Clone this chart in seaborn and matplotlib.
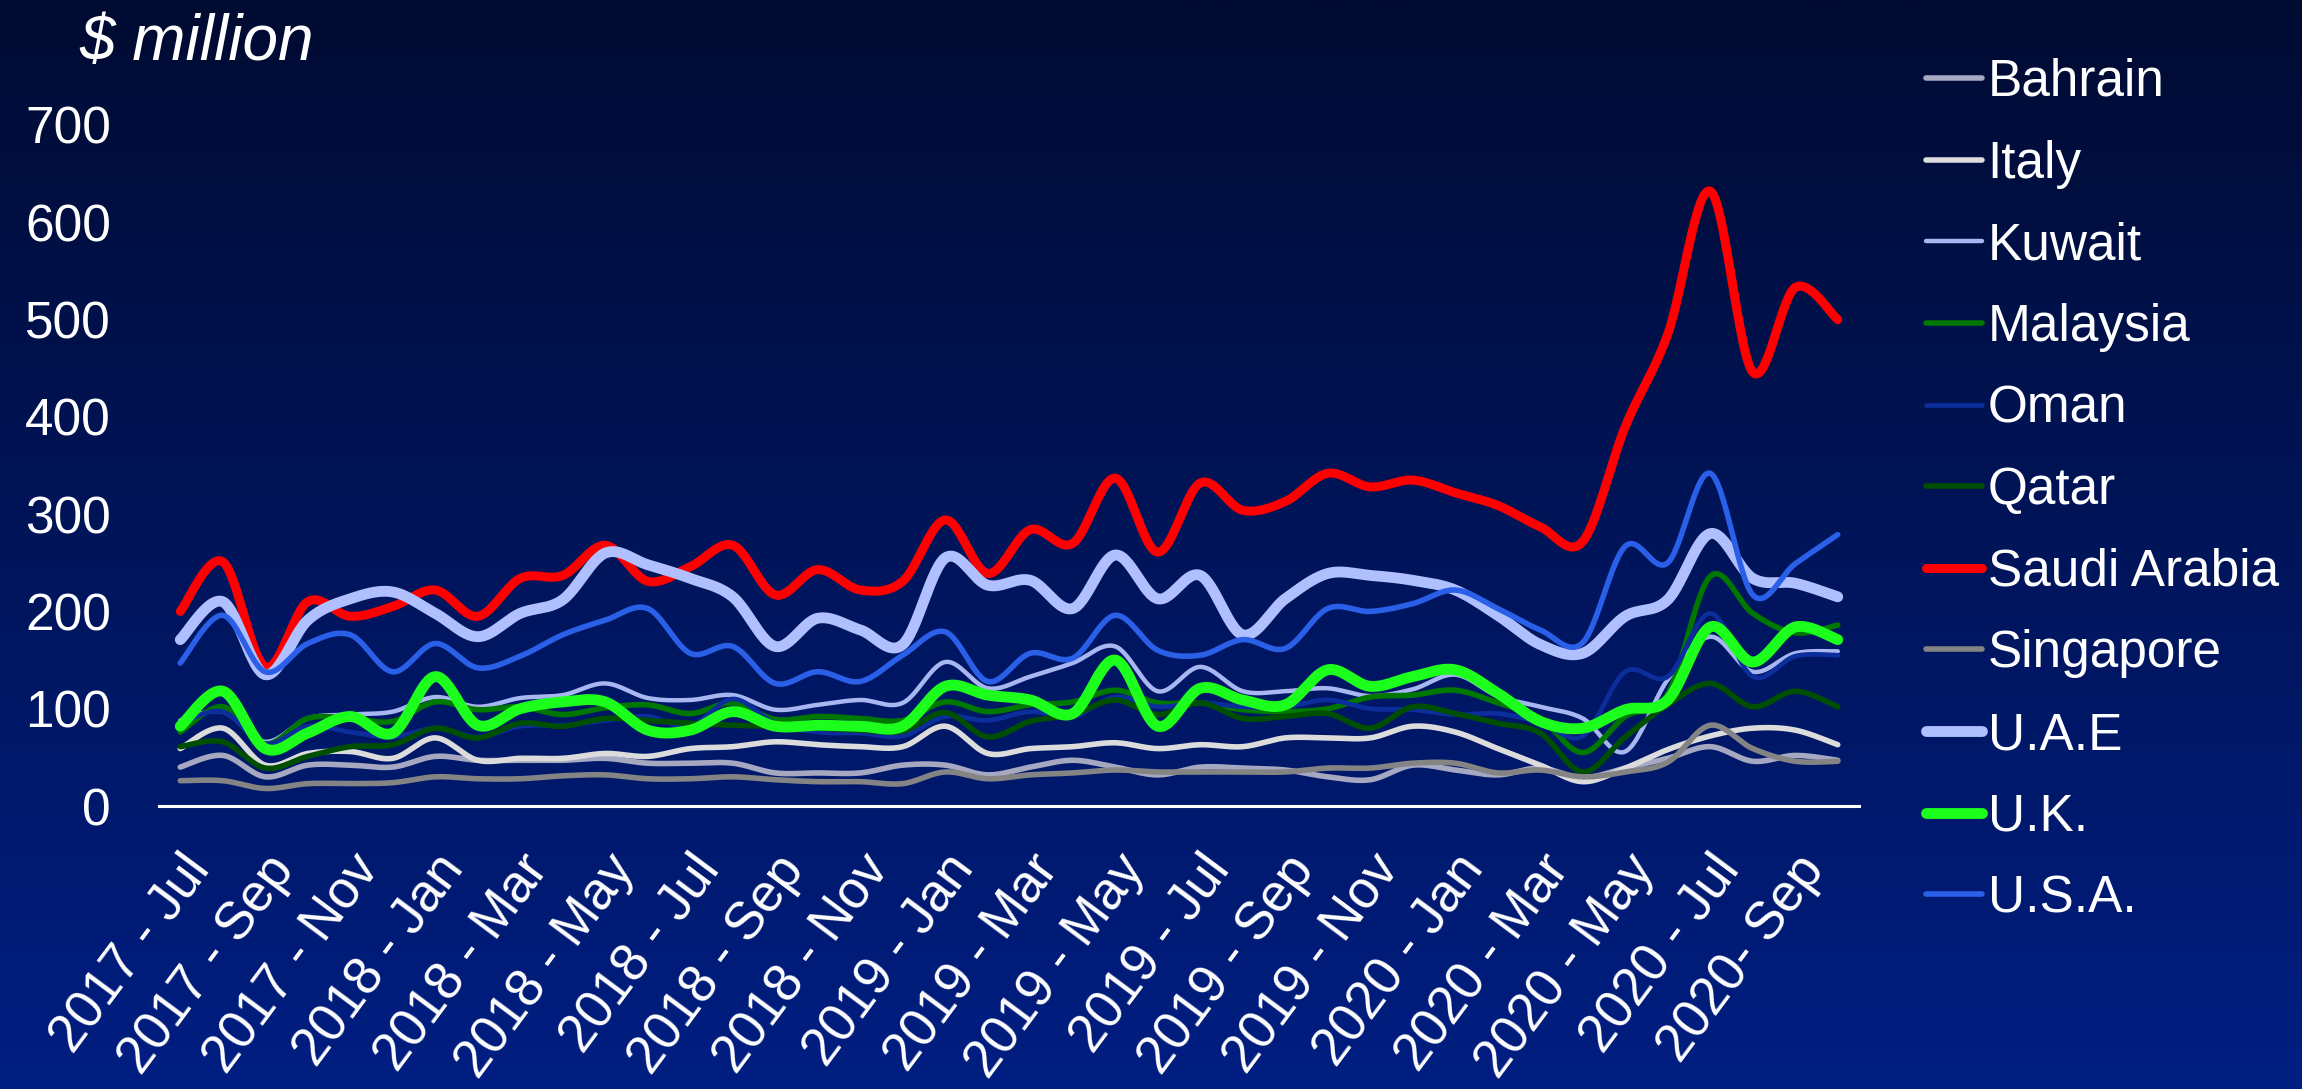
import numpy as np
import pandas as pd
import matplotlib
matplotlib.use("Agg")
import matplotlib.pyplot as plt
from matplotlib.lines import Line2D
from matplotlib.transforms import ScaledTranslation
import seaborn as sns

# ---- data: monthly values, $ million, Jul 2017 .. Oct 2020 ----
month_names = ["Jan", "Feb", "Mar", "Apr", "May", "Jun",
               "Jul", "Aug", "Sep", "Oct", "Nov", "Dec"]
months = [f"{2017 + (6 + k) // 12} - {month_names[(6 + k) % 12]}" for k in range(40)]

tick_labels = ["2017 - Jul", "2017 - Sep", "2017 - Nov", "2018 - Jan", "2018 - Mar",
               "2018 - May", "2018 - Jul", "2018 - Sep", "2018 - Nov", "2019 - Jan",
               "2019 - Mar", "2019 - May", "2019 - Jul", "2019 - Sep", "2019 - Nov",
               "2020 - Jan", "2020 - Mar", "2020 - May", "2020 - Jul", "2020- Sep"]

countries = ["Bahrain", "Italy", "Kuwait", "Malaysia", "Oman", "Qatar",
             "Saudi Arabia", "Singapore", "U.A.E", "U.K.", "U.S.A."]

bahrain = [40, 52, 30, 42, 42, 40, 51, 47, 47, 47, 49, 44, 44, 44, 34, 34, 34, 42, 42, 32,
           40, 47, 40, 32, 40, 39, 37, 30, 27, 42, 37, 32, 39, 29, 39, 49, 61, 46, 52, 47]
italy = [59, 80, 42, 54, 56, 49, 70, 47, 49, 49, 54, 51, 59, 61, 66, 63, 61, 61, 82, 54,
         59, 61, 65, 59, 63, 61, 70, 70, 70, 82, 76, 59, 42, 25, 39, 58, 72, 80, 78, 63]
kuwait = [88, 97, 66, 90, 94, 97, 112, 102, 111, 114, 126, 111, 109, 114, 99, 104, 109, 106, 148, 121,
          133, 147, 164, 118, 143, 118, 118, 121, 113, 120, 135, 113, 102, 90, 56, 130, 174, 138, 157, 159]
malaysia = [76, 102, 64, 90, 90, 87, 107, 99, 102, 94, 101, 104, 95, 106, 89, 92, 90, 88, 107, 97,
            104, 107, 119, 106, 106, 99, 97, 100, 112, 114, 119, 106, 90, 55, 92, 115, 236, 198, 178, 186]
oman = [85, 97, 64, 82, 76, 71, 80, 71, 82, 83, 88, 92, 82, 110, 85, 76, 75, 72, 92, 88,
        97, 92, 112, 102, 106, 102, 102, 109, 100, 99, 94, 95, 86, 72, 138, 133, 198, 133, 154, 155]
qatar = [61, 66, 39, 51, 61, 63, 80, 70, 85, 82, 90, 88, 85, 83, 82, 80, 78, 77, 96, 71,
         87, 94, 109, 94, 106, 90, 92, 95, 80, 102, 95, 85, 75, 35, 71, 104, 126, 102, 118, 102]
saudi_arabia = [200, 251, 143, 210, 195, 205, 222, 195, 234, 237, 268, 231, 246, 268, 217, 243, 222, 231, 294, 239,
                284, 270, 337, 261, 332, 304, 313, 342, 328, 335, 322, 309, 287, 272, 390, 485, 632, 446, 533, 500]
singapore = [26, 26, 18, 23, 23, 24, 30, 28, 28, 31, 32, 28, 28, 30, 27, 25, 25, 23, 35, 28,
             32, 34, 37, 35, 35, 35, 35, 39, 39, 44, 44, 34, 37, 30, 35, 45, 83, 59, 46, 46]
uae = [171, 210, 135, 191, 213, 220, 198, 174, 198, 212, 260, 248, 234, 215, 164, 193, 181, 166, 255, 227,
       232, 203, 258, 213, 237, 176, 213, 239, 237, 232, 222, 196, 166, 157, 195, 212, 280, 234, 229, 215]
uk = [82, 118, 59, 75, 92, 75, 133, 83, 100, 107, 107, 78, 78, 97, 82, 83, 82, 82, 123, 114,
      109, 95, 150, 82, 121, 109, 104, 140, 123, 133, 140, 116, 87, 80, 99, 109, 184, 148, 184, 171]
usa = [147, 196, 138, 167, 176, 138, 167, 142, 154, 176, 191, 203, 157, 164, 126, 138, 128, 155, 179, 128,
       157, 152, 196, 160, 155, 171, 162, 203, 200, 208, 222, 203, 181, 168, 267, 250, 342, 217, 249, 279]

values = [bahrain, italy, kuwait, malaysia, oman, qatar,
          saudi_arabia, singapore, uae, uk, usa]

colors = ["#A6A8C2", "#DCDCDC", "#A8B6F2", "#007800", "#0C2E9C", "#004E00",
          "#FF0000", "#848484", "#B0C0FF", "#1CFF1C", "#2A5FE8"]
widths = [4.0, 4.0, 3.2, 4.0, 3.4, 4.0, 6.5, 4.0, 7.8, 7.8, 4.0]


def smooth_curve(y, n=30):
    """Bezier-smoothed path through monthly points (spreadsheet-style smoothing)."""
    pts = np.column_stack([np.arange(len(y), dtype=float), np.asarray(y, float)])
    out = []
    last = len(pts) - 2
    for k in range(len(pts) - 1):
        p0 = pts[k - 1] if k > 0 else pts[k]
        p1, p2 = pts[k], pts[k + 1]
        p3 = pts[k + 2] if k + 2 < len(pts) else pts[k + 1]
        c1 = p1 + (p2 - p0) / 6.0
        c2 = p2 - (p3 - p1) / 6.0
        t = np.linspace(0, 1, n, endpoint=(k == last))[:, None]
        seg = ((1 - t) ** 3) * p1 + 3 * ((1 - t) ** 2) * t * c1 + 3 * (1 - t) * (t ** 2) * c2 + (t ** 3) * p2
        out.append(seg)
    return np.vstack(out)


frames = []
for name, vals in zip(countries, values):
    path = smooth_curve(vals)
    frames.append(pd.DataFrame({"x": path[:, 0], "value": path[:, 1], "country": name}))
df = pd.concat(frames, ignore_index=True)

# ---- styling ----
sns.set_style("white")
plt.rcParams["font.family"] = ["Liberation Sans", "DejaVu Sans"]

W, H = 2302, 1089
fig = plt.figure(figsize=(W / 100, H / 100), dpi=100)

# vertical navy gradient behind everything
bg = fig.add_axes([0, 0, 1, 1], zorder=0)
top = np.array([0, 11, 50]) / 255.0
bottom = np.array([0, 30, 130]) / 255.0
tt = np.linspace(0, 1, 512)[:, None, None]
grad = top * (1 - tt) + bottom * tt
bg.imshow(grad, aspect="auto", extent=[0, 1, 0, 1], origin="upper")
bg.axis("off")

ax = fig.add_axes([159 / W, 1 - 806 / H, 1700 / W, 681 / H], zorder=1)
ax.patch.set_alpha(0)

sns.lineplot(data=df, x="x", y="value", hue="country", size="country",
             hue_order=countries, size_order=countries,
             palette=dict(zip(countries, colors)),
             sizes=dict(zip(countries, widths)),
             sort=False, estimator=None, legend=False, ax=ax,
             solid_capstyle="round", solid_joinstyle="round")

ax.set_xlim(-0.5, 39.5)
ax.set_ylim(0, 700)
ax.set_xlabel("")
ax.set_ylabel("")
ax.set_yticks(np.arange(0, 701, 100))
ax.set_xticks(np.arange(40))
ax.set_xticks([39.5], minor=True)
ax.set_xticklabels([tick_labels[i // 2] if i % 2 == 0 else "" for i in range(40)])

for side in ("top", "right", "left"):
    ax.spines[side].set_visible(False)
ax.spines["bottom"].set_color("white")
ax.spines["bottom"].set_linewidth(2.2)

ax.tick_params(axis="x", which="both", direction="out", length=7.5, width=1.5,
               color="white", labelcolor="white", labelsize=38, pad=32)
ax.tick_params(axis="y", length=0, labelcolor="white", labelsize=37, pad=34.5)

shift = ScaledTranslation(0.19, 0, fig.dpi_scale_trans)
for lab in ax.get_xticklabels():
    lab.set_rotation(53.3)
    lab.set_ha("right")
    lab.set_va("center")
    lab.set_rotation_mode("anchor")
    lab.set_transform(lab.get_transform() + shift)

fig.text(79 / W, 1 - 60 / H, "$ million", style="italic", fontsize=46,
         color="white", ha="left", va="baseline")

handles = [Line2D([0], [0], color=c, lw=w, solid_capstyle="round")
           for c, w in zip(colors, widths)]
leg = ax.legend(handles, countries, loc="upper left",
                bbox_to_anchor=(1926 / W, 1 - 58 / H), bbox_transform=fig.transFigure,
                frameon=False, fontsize=37, labelcolor="white",
                handlelength=1.08, handletextpad=0.12, labelspacing=0.635,
                borderpad=0, borderaxespad=0)

fig.savefig("out.png", dpi=100)
